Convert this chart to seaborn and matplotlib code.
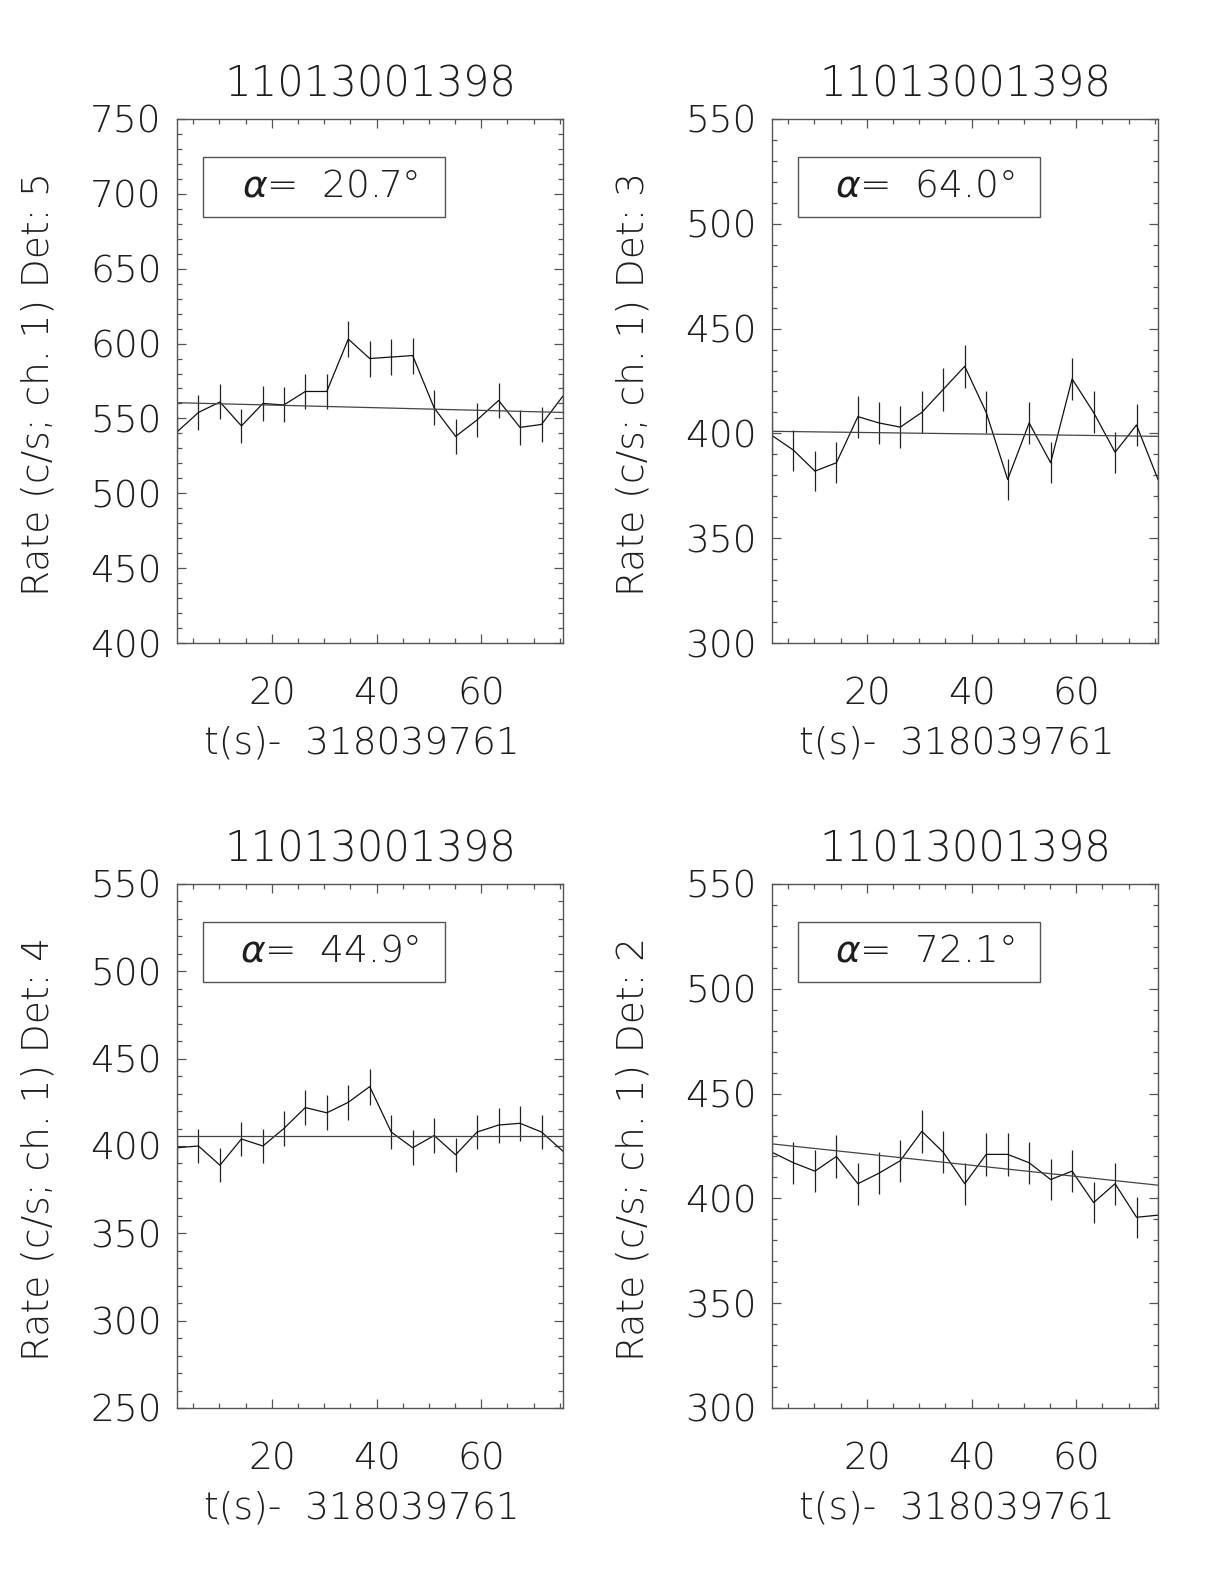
import matplotlib
matplotlib.use("Agg")
import seaborn as sns
import numpy as np
import pandas as pd
import matplotlib.pyplot as plt
from matplotlib.ticker import MultipleLocator
from matplotlib.patches import Rectangle

sns.set_style("ticks")
plt.rcParams['font.family'] = ['DejaVu Sans']
plt.rcParams['font.weight'] = 200
plt.rcParams['axes.titleweight'] = 200
plt.rcParams['axes.labelweight'] = 200
plt.rcParams['mathtext.fontset'] = 'dejavusans'

# time bins (s) after 318039761
t = [1.9, 6.0, 10.1, 14.2, 18.3, 22.3, 26.4, 30.5, 34.6, 38.7,
     42.8, 46.9, 51.0, 55.1, 59.2, 63.3, 67.4, 71.5, 75.6]

obs_id = "11013001398"
t_label = "t(s)-  318039761"

# panel order: top-left, top-right, bottom-left, bottom-right
dets = [5, 3, 4, 2]
alphas = [20.7, 64.0, 44.9, 72.1]
ylims = [(400, 750), (300, 550), (250, 550), (300, 550)]

rate_det5 = [541, 554, 561, 545, 560, 559, 568, 568, 603, 590,
             591, 592, 557, 538, 549, 562, 544, 546, 565]
err_det5 = [11.5, 11.6, 11.7, 11.5, 11.7, 11.7, 11.8, 11.8, 12.1, 12.0,
            12.0, 12.0, 11.7, 11.5, 11.6, 11.7, 11.5, 11.5, 11.7]

rate_det3 = [399, 392, 382, 386, 408, 405, 403, 410, 421, 432,
             410, 378, 405, 386, 426, 410, 391, 404, 378]
err_det3 = [9.9, 9.8, 9.7, 9.7, 10.0, 9.9, 9.9, 10.0, 10.1, 10.3,
            10.0, 9.6, 9.9, 9.7, 10.2, 10.0, 9.8, 9.9, 9.6]

rate_det4 = [399, 400, 389, 404, 400, 410, 422, 419, 425, 434,
             408, 399, 406, 395, 408, 412, 413, 408, 397]
err_det4 = [9.9, 9.9, 9.7, 9.9, 9.9, 10.0, 10.1, 10.1, 10.2, 10.3,
            10.0, 9.9, 10.0, 9.8, 10.0, 10.0, 10.0, 10.0, 9.8]

rate_det2 = [422, 417, 413, 420, 407, 412, 418, 432, 422, 407,
             421, 421, 417, 409, 413, 398, 407, 391, 392]
err_det2 = [10.1, 10.1, 10.0, 10.1, 10.0, 10.0, 10.1, 10.3, 10.1, 10.0,
            10.1, 10.1, 10.1, 10.0, 10.0, 9.9, 10.0, 9.8, 9.8]

# linear fit, value at first and last bin
fit_start = [560.5, 401.0, 406.0, 426.0]
fit_end = [554.0, 398.6, 406.0, 406.3]

rates = [rate_det5, rate_det3, rate_det4, rate_det2]
errs = [err_det5, err_det3, err_det4, err_det2]

txt_col = '#1e1e1e'
fs = 27

fig = plt.figure(figsize=(12.24, 15.84), dpi=100)
W, H = 1224, 1584
lefts = [177, 772, 177, 772]
tops = [119, 119, 884, 884]
aw, ah = 386, 524

for i in range(4):
    ax = fig.add_axes([lefts[i] / W, 1 - (tops[i] + ah) / H, aw / W, ah / H])
    df = pd.DataFrame({"t": t, "rate": rates[i], "err": errs[i]})

    ax.vlines(df["t"], df["rate"] - df["err"], df["rate"] + df["err"],
              color='#222222', lw=0.9)
    sns.lineplot(data=df, x="t", y="rate", ax=ax, color='#111111', lw=0.9,
                 estimator=None, sort=False)
    fit = pd.DataFrame({"t": [t[0], t[-1]], "rate": [fit_start[i], fit_end[i]]})
    sns.lineplot(data=fit, x="t", y="rate", ax=ax, color='#444444', lw=0.9)

    ax.set_xlim(t[0], t[-1])
    ax.set_ylim(*ylims[i])
    ax.xaxis.set_major_locator(MultipleLocator(20))
    ax.xaxis.set_minor_locator(MultipleLocator(5))
    ax.yaxis.set_major_locator(MultipleLocator(50))
    ax.yaxis.set_minor_locator(MultipleLocator(10))
    ax.tick_params(which='both', direction='in', top=True, right=True,
                   color='#555555', width=0.9)
    ax.tick_params(which='major', length=6.5)
    ax.tick_params(which='minor', length=3.3)
    ax.tick_params(axis='x', which='major', pad=24, labelsize=fs, labelcolor=txt_col)
    ax.tick_params(axis='y', which='major', pad=11, labelsize=fs, labelcolor=txt_col)
    for s in ax.spines.values():
        s.set_visible(True)
        s.set_color('#555555')
        s.set_linewidth(1.0)

    ax.set_title(obs_id, fontsize=fs + 3, color=txt_col, pad=16)
    ax.set_xlabel(t_label, fontsize=fs, color=txt_col)
    ax.xaxis.set_label_coords(0.48, -0.158)
    ax.set_ylabel(f"Rate (c/s; ch. 1) Det: {dets[i]}", fontsize=fs, color=txt_col)
    ax.yaxis.set_label_coords(-0.315, 0.494)

    ax.add_patch(Rectangle((0.068, 0.813), 0.626, 0.114, transform=ax.transAxes,
                           fill=False, ec='#555555', lw=1.0))
    ax.text(0.395, 0.872, r"$\alpha$=  " + f"{alphas[i]:.1f}°", transform=ax.transAxes,
            ha='center', va='center', fontsize=fs, color=txt_col)

fig.savefig("out.png", dpi=100, facecolor='white')
